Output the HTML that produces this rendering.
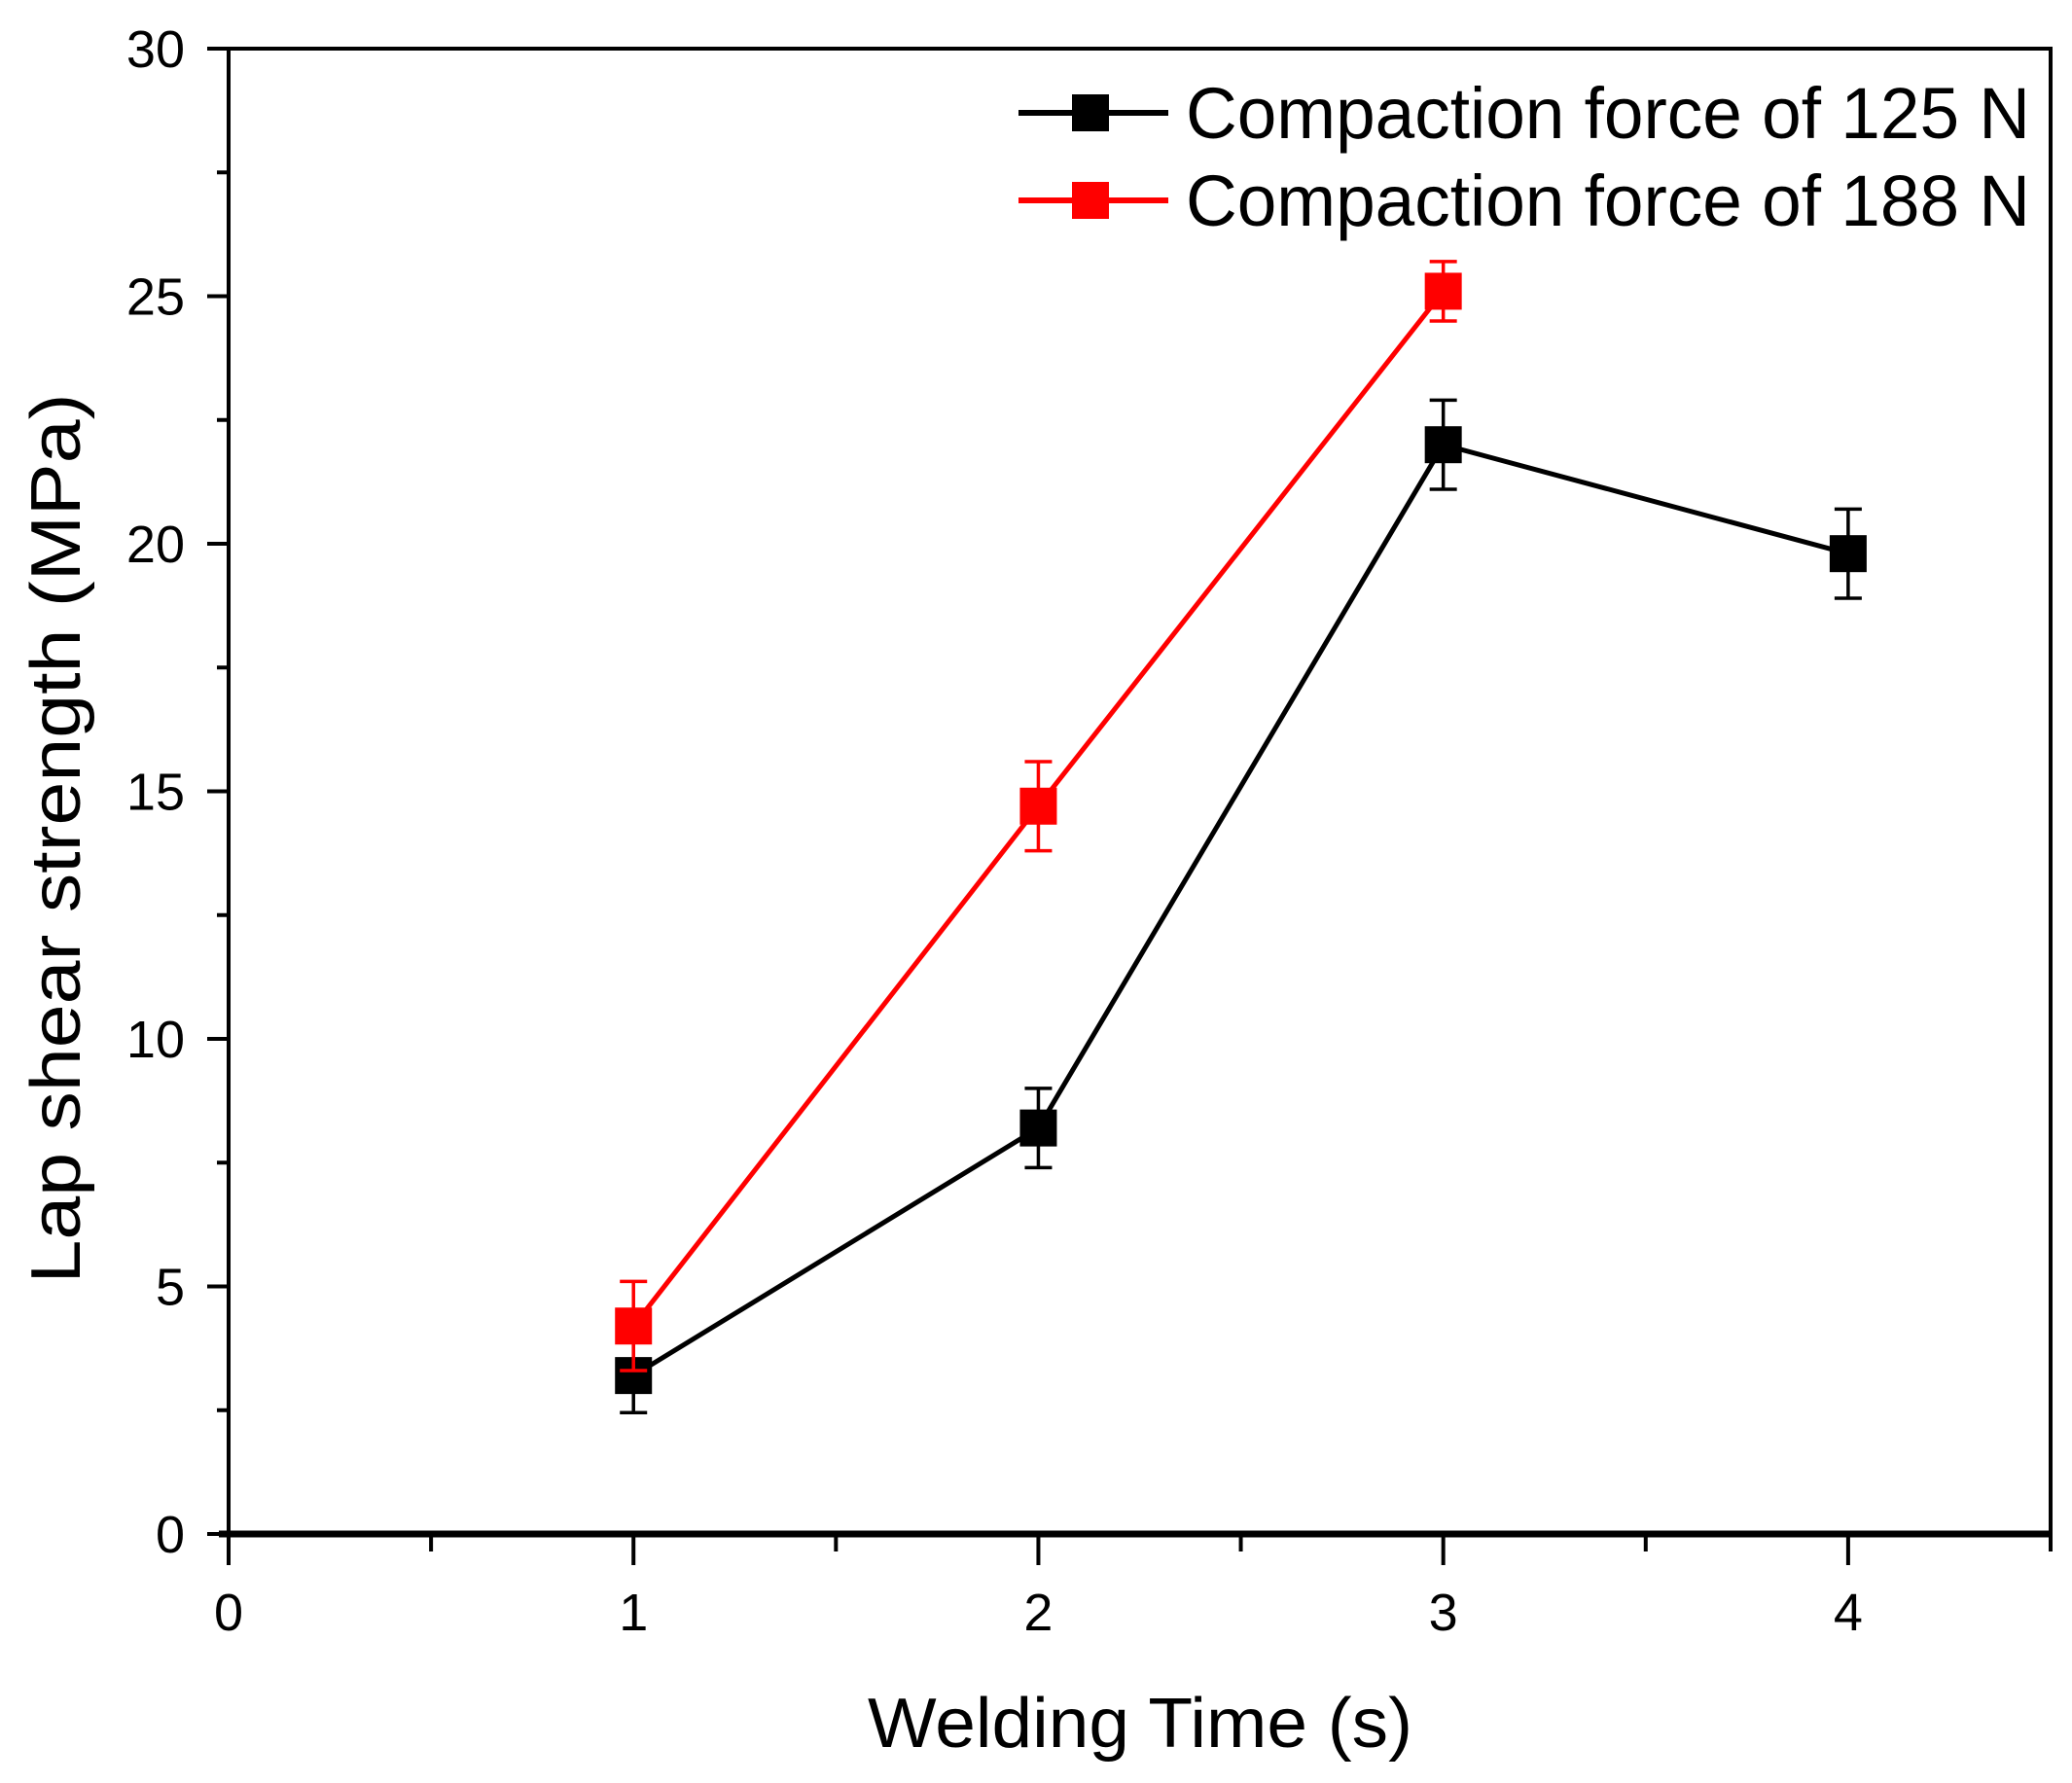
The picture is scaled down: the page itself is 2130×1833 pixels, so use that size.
<!DOCTYPE html>
<html><head><meta charset="utf-8"><style>
html,body{margin:0;padding:0;background:#fff;}
svg{display:block;font-family:"Liberation Sans",Arial,sans-serif;}
</style></head><body>
<svg id="chart" width="2130" height="1833" viewBox="0 0 2130 1833" xmlns="http://www.w3.org/2000/svg">
<rect x="0" y="0" width="2130" height="1833" fill="#fff"/>
<g id="axes"></g>
<g id="series"></g>
<g id="legend"></g>
</svg>
<script>
const xCats = [1, 2, 3, 4];
const s125 = [3.2, 8.2, 22.0, 19.8];
const e125 = [0.75, 0.8, 0.9, 0.9];
const s188 = [4.2, 14.7, 25.1];
const e188 = [0.9, 0.9, 0.6];
const xTicks = [0, 1, 2, 3, 4];
const yTicks = [0, 5, 10, 15, 20, 25, 30];
const seriesNames = ["Compaction force of 125 N", "Compaction force of 188 N"];

const NS = "http://www.w3.org/2000/svg";
const L = 235, R = 2108, T = 50, B = 1577;
const xMax = 4.5, yMax = 30;
const xs = v => L + v / xMax * (R - L);
const ys = v => B - v / yMax * (B - T);
function mk(tag, attrs, parent) {
  const e = document.createElementNS(NS, tag);
  for (const k in attrs) e.setAttribute(k, attrs[k]);
  parent.appendChild(e);
  return e;
}
const axes = document.getElementById("axes");
const series = document.getElementById("series");
const legend = document.getElementById("legend");

// frame
const frame = mk("rect", {x: L, y: T, width: R - L, height: B - T, fill: "none", stroke: "#000", "stroke-width": 4}, axes);


const xl = mk("line", {x1: L - 10, y1: B, x2: R, y2: B, stroke: "#000", "stroke-width": 7}, axes);



// y ticks
for (let v = 0; v <= yMax; v += 2.5) {
  const major = v % 5 === 0;
  const t = mk("line", {x1: L - (major ? 22 : 12), y1: ys(v), x2: L, y2: ys(v), stroke: "#000", "stroke-width": 4}, axes);
  
  
}
yTicks.forEach(v => {
  const t = mk("text", {x: 190, y: ys(v) + 19, "text-anchor": "end", "font-size": 54}, axes);
  t.textContent = v;
  
  
});
// x ticks
for (let v = 0; v <= xMax; v += 0.5) {
  const major = v % 1 === 0;
  const t = mk("line", {x1: xs(v), y1: B, x2: xs(v), y2: B + (major ? 32 : 18), stroke: "#000", "stroke-width": 4}, axes);
  
  
}
xTicks.forEach(v => {
  const t = mk("text", {x: xs(v), y: 1676, "text-anchor": "middle", "font-size": 54}, axes);
  t.textContent = v;
  
  
});
const xt = mk("text", {x: 1172, y: 1796, "text-anchor": "middle", "font-size": 72, textLength: 560, lengthAdjust: "spacingAndGlyphs"}, axes);
xt.textContent = "Welding Time (s)";


const yt = mk("text", {x: 0, y: 0, "text-anchor": "middle", "font-size": 72, textLength: 915, lengthAdjust: "spacingAndGlyphs", transform: "translate(82,862) rotate(-90)"}, axes);
yt.textContent = "Lap shear strength (MPa)";



function drawSeries(vals, errs, color, name) {
  const g = mk("g", {}, series);
  
  
  const pts = vals.map((v, i) => xs(xCats[i]) + "," + ys(v)).join(" ");
  const pl = mk("polyline", {points: pts, fill: "none", stroke: color, "stroke-width": 5}, g);
  
  
  vals.forEach((v, i) => {
    const x = xs(xCats[i]);
    const eb = mk("path", {d: `M${x},${ys(v - errs[i])}V${ys(v + errs[i])}M${x - 14},${ys(v - errs[i])}H${x + 14}M${x - 14},${ys(v + errs[i])}H${x + 14}`, stroke: color, "stroke-width": 3.5, fill: "none"}, g);
    
    
    const m = mk("rect", {x: x - 19, y: ys(v) - 19, width: 38, height: 38, fill: color}, g);
    
    
  });
}
drawSeries(s125, e125, "#000", "series-125n");
drawSeries(s188, e188, "#f00", "series-188n");

// legend
[["#000", 116], ["#f00", 206]].forEach((c, i) => {
  const ln = mk("line", {x1: 1047, y1: c[1], x2: 1201, y2: c[1], stroke: c[0], "stroke-width": 6}, legend);
  
  
  const sq = mk("rect", {x: 1102, y: c[1] - 19, width: 38, height: 38, fill: c[0]}, legend);
  
  
  const tx = mk("text", {x: 1219, y: c[1] + 26, "font-size": 74, textLength: 868, lengthAdjust: "spacingAndGlyphs"}, legend);
  tx.textContent = seriesNames[i];
  
  
});
</script>
</body></html>
